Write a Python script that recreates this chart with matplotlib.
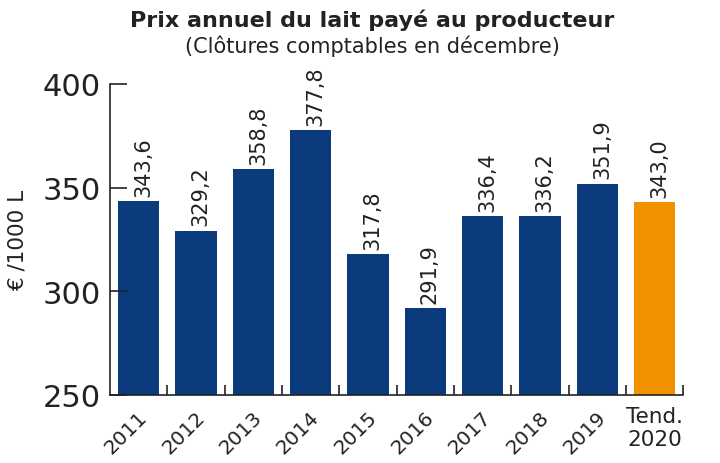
import matplotlib.pyplot as plt
import numpy as np

# donnees
annees = ['2011', '2012', '2013', '2014', '2015', '2016', '2017', '2018', '2019', 'Tend.\n2020']
prix = [343.6, 329.2, 358.8, 377.8, 317.8, 291.9, 336.4, 336.2, 351.9, 343.0]
couleurs = ['#0c3b7d'] * 9 + ['#f29100']

plt.rcParams['font.family'] = ['DejaVu Sans']
gris = '#222222'

fig = plt.figure(figsize=(7.2, 4.64), dpi=100)
ax = fig.add_axes([0.153, 0.147, 0.796, 0.670])

x = np.arange(len(prix))
ax.bar(x, prix, width=0.72, color=couleurs, bottom=0)
ax.set_ylim(250, 400)
ax.set_xlim(-0.5, len(prix) - 0.5)

# etiquettes de valeur
for xi, v in zip(x, prix):
    ax.text(xi + 0.08, v + 2.5, f'{v:.1f}'.replace('.', ','), rotation=90,
            ha='center', va='bottom', fontsize=15, color=gris)

ax.set_yticks([250, 300, 350, 400])
ax.tick_params(axis='y', direction='in', length=12, width=1.2, labelsize=22,
               pad=7, colors=gris)
ax.set_xticks(x)
ax.set_xticklabels([])
ax.tick_params(axis='x', which='major', length=0)
ax.set_xticks(np.append(x[:-1] + 0.5, len(prix) - 0.5), minor=True)
ax.tick_params(axis='x', which='minor', direction='in', length=7, width=1.2, colors=gris)

# etiquettes des annees
for xi, lab in zip(x, annees):
    if '\n' in lab:
        ax.text(xi, 244.5, lab, ha='center', va='top', fontsize=15.5, color=gris,
                linespacing=1.15)
    else:
        ax.text(xi - 0.02, 244, lab, ha='right', va='top', rotation=45,
                rotation_mode='anchor', fontsize=14.5, color=gris)

for s in ['top', 'right']:
    ax.spines[s].set_visible(False)
for s in ['left', 'bottom']:
    ax.spines[s].set_color(gris)
    ax.spines[s].set_linewidth(1.2)

ax.set_ylabel('€ /1000 L', fontsize=15.5, color=gris)
ax.yaxis.set_label_coords(-0.145, 0.5)

fig.text(0.517, 0.957, 'Prix annuel du lait payé au producteur', ha='center',
         va='center', fontsize=16, fontweight='bold', color=gris)
fig.text(0.517, 0.900, '(Clôtures comptables en décembre)', ha='center',
         va='center', fontsize=15, color=gris)

fig.savefig('out.png', dpi=100)
